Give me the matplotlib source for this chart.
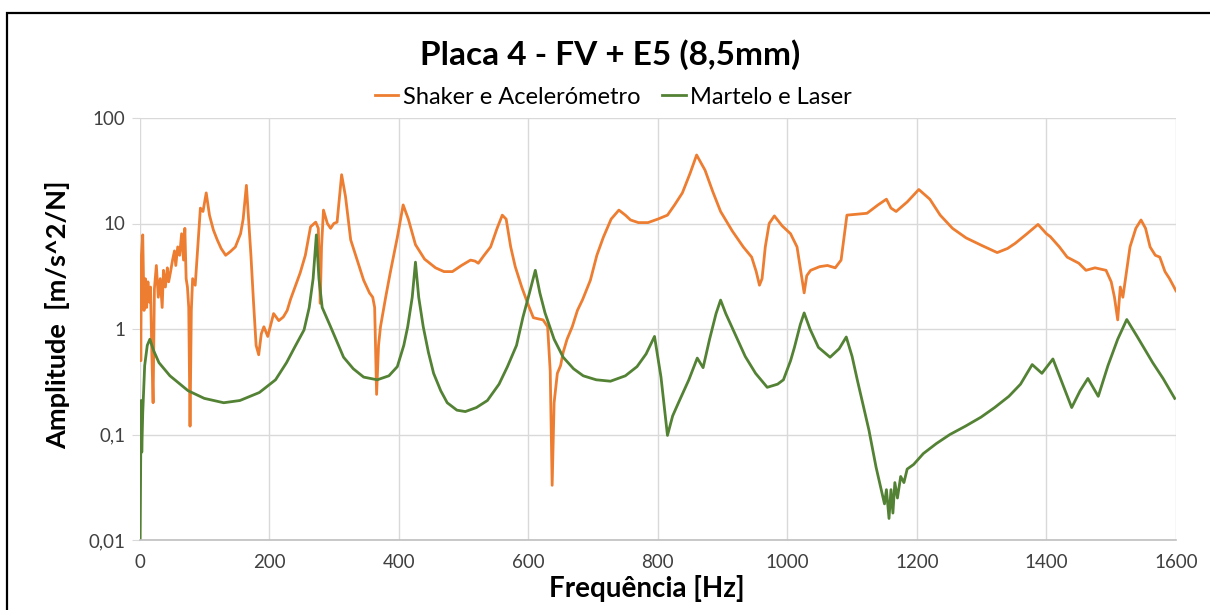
import matplotlib
matplotlib.use("Agg")
import matplotlib.pyplot as plt
from matplotlib.patches import Rectangle

plt.rcParams['font.family'] = ['Lato', 'DejaVu Sans']

# Shaker e Acelerómetro
freq_shaker = [1, 2, 3, 5, 7, 9, 11, 13, 15, 17, 19, 21, 23, 26, 29, 32, 35, 37, 40, 43,
               45, 48, 51, 54, 56, 59, 62, 65, 68, 70, 72, 74, 76, 78, 80, 82, 86, 90, 94, 98,
               103, 108, 114, 120, 126, 133, 140, 148, 156, 160, 165, 168, 172, 176, 180, 184, 188, 192, 198, 207,
               215, 222, 228, 233, 240, 248, 256, 264, 272, 276, 279, 281, 284, 290, 295, 300, 305, 312, 318, 326,
               336, 346, 355, 360, 363, 366, 369, 372, 380, 387, 398, 407, 415, 426, 440, 457, 470, 483, 497, 511,
               518, 523, 532, 542, 552, 560, 566, 573, 580, 590, 600, 608, 615, 623, 630, 634, 637, 640, 645, 650,
               654, 660, 668, 676, 684, 696, 706, 716, 728, 740, 750, 758, 770, 785, 800, 815, 826, 838, 850, 860,
               873, 885, 897, 915, 932, 945, 952, 957, 961, 966, 972, 980, 992, 1005, 1015, 1021, 1026, 1030, 1036, 1050,
               1062, 1074, 1083, 1092, 1105, 1123, 1140, 1153, 1160, 1168, 1185, 1203, 1220, 1236, 1255, 1276, 1300, 1324, 1340, 1352,
               1370, 1387, 1400, 1406, 1420, 1432, 1450, 1461, 1475, 1492, 1500, 1505, 1510, 1514, 1518, 1529, 1538, 1546, 1553, 1560,
               1568, 1575, 1583, 1590, 1594, 1600]
amp_shaker = [3.6, 0.5, 5, 7.8, 1.5, 3, 1.6, 2.8, 1.8, 2.5, 0.6, 0.2, 2.4, 4, 2, 3, 1.6, 3.6, 2.5, 3.8,
              2.8, 3.5, 4.5, 5.5, 4, 6, 5, 8, 4.5, 9, 3, 2.5, 1.6, 0.12, 1.5, 3, 2.6, 6, 14, 13,
              19.5, 12, 8.7, 7, 5.8, 5, 5.4, 6, 8, 11, 23, 12, 5, 1.8, 0.7, 0.57, 0.9, 1.05, 0.85, 1.4,
              1.2, 1.3, 1.5, 1.9, 2.5, 3.4, 5, 9.3, 10.3, 9, 1.75, 6, 13.4, 10, 9, 10, 10.3, 29, 18, 7,
              4.5, 2.9, 2.2, 2.0, 1.6, 0.24, 0.7, 1.05, 2, 3.4, 7.4, 15, 11, 6.3, 4.6, 3.8, 3.5, 3.5, 4, 4.5,
              4.4, 4.2, 5, 6, 9, 12, 11, 6, 3.9, 2.5, 1.7, 1.28, 1.25, 1.22, 1.05, 0.4, 0.033, 0.2, 0.38, 0.45,
              0.6, 0.8, 1.05, 1.5, 1.9, 2.9, 5, 7.4, 11, 13.4, 12, 10.8, 10.2, 10.2, 11, 12, 15, 19.5, 30, 44.6,
              32, 20, 13, 8.5, 6, 4.8, 3.5, 2.6, 3, 6, 10, 11.8, 9.5, 8, 6, 3.5, 2.2, 3.2, 3.6, 3.9,
              4, 3.8, 4.5, 12, 12.2, 12.5, 15, 17, 14, 13, 16, 21, 17, 12, 9, 7.3, 6.2, 5.3, 5.8, 6.5,
              8, 9.8, 8, 7.5, 6, 4.8, 4.2, 3.6, 3.8, 3.6, 2.8, 2.0, 1.22, 2.5, 2, 6, 9, 10.8, 9, 6,
              5, 4.8, 3.5, 3, 2.7, 2.3]

# Martelo e Laser
freq_martelo = [1, 2.5, 3.5, 5, 8, 12, 16, 22, 30, 47, 75, 100, 130, 155, 185, 210, 227, 240, 254, 262,
                268, 273, 277, 282, 295, 315, 330, 346, 367, 385, 398, 408, 414, 421, 426, 431, 438, 446, 454, 465,
                475, 490, 503, 520, 537, 555, 568, 582, 592, 602, 611, 618, 626, 640, 654, 670, 685, 705, 727, 750,
                768, 782, 795, 805, 815, 823, 832, 848, 861, 870, 880, 890, 897, 905, 921, 935, 951, 969, 985, 994,
                1005, 1011, 1020, 1026, 1035, 1048, 1066, 1080, 1091, 1100, 1108, 1118, 1126, 1137, 1145, 1150, 1153, 1157, 1160, 1163,
                1166, 1170, 1175, 1180, 1185, 1195, 1210, 1230, 1251, 1275, 1299, 1320, 1342, 1360, 1378, 1393, 1410, 1425, 1439, 1452,
                1464, 1480, 1495, 1510, 1524, 1540, 1564, 1580, 1598]
amp_martelo = [0.01, 0.21, 0.068, 0.16, 0.45, 0.7, 0.8, 0.62, 0.48, 0.36, 0.26, 0.22, 0.2, 0.21, 0.25, 0.33, 0.48, 0.68, 0.98, 1.6,
               3, 7.8, 3, 1.6, 1.05, 0.54, 0.42, 0.35, 0.33, 0.36, 0.44, 0.7, 1.05, 2, 4.3, 2, 1.05, 0.6, 0.38, 0.26,
               0.2, 0.17, 0.165, 0.18, 0.21, 0.3, 0.44, 0.7, 1.3, 2.2, 3.6, 2.2, 1.42, 0.8, 0.54, 0.42, 0.36, 0.33, 0.32, 0.36,
               0.44, 0.58, 0.85, 0.35, 0.098, 0.15, 0.2, 0.33, 0.53, 0.43, 0.8, 1.4, 1.88, 1.4, 0.85, 0.55, 0.38, 0.28, 0.3, 0.33,
               0.5, 0.67, 1.1, 1.42, 1.0, 0.67, 0.54, 0.65, 0.84, 0.55, 0.33, 0.18, 0.11, 0.049, 0.03, 0.022, 0.03, 0.016, 0.03, 0.018,
               0.035, 0.025, 0.04, 0.035, 0.047, 0.052, 0.066, 0.082, 0.1, 0.12, 0.146, 0.18, 0.23, 0.3, 0.46, 0.38, 0.52, 0.3, 0.18, 0.26,
               0.34, 0.23, 0.45, 0.8, 1.23, 0.85, 0.48, 0.34, 0.22]

x_ticks = [0, 200, 400, 600, 800, 1000, 1200, 1400, 1600]
y_ticks = [0.01, 0.1, 1, 10, 100]
y_tick_labels = ['0,01', '0,1', '1', '10', '100']

fig = plt.figure(figsize=(12.1, 6.1), dpi=100)
ax = fig.add_axes([139.5 / 1210, 1 - 540 / 610, (1176 - 139.5) / 1210, (540 - 118) / 610])

ax.plot(freq_shaker, amp_shaker, color='#ED7D31', lw=2.0, label='Shaker e Acelerómetro')
ax.plot(freq_martelo, amp_martelo, color='#548235', lw=2.0, label='Martelo e Laser')

ax.set_yscale('log')
ax.set_xlim(0, 1600)
ax.set_ylim(0.01, 100)
ax.set_xticks(x_ticks)
ax.set_yticks(y_ticks)
ax.set_yticklabels(y_tick_labels)
ax.minorticks_off()
ax.grid(True, color='#d9d9d9', lw=1)
ax.set_axisbelow(True)
for s in ['top', 'right', 'left']:
    ax.spines[s].set_visible(False)
ax.spines['bottom'].set_color('#bfbfbf')
ax.spines['bottom'].set_linewidth(1.2)
ax.tick_params(axis='y', length=6, color='#d9d9d9', labelsize=13.5, labelcolor='#404040', pad=4)
ax.tick_params(axis='x', length=0, labelsize=13.5, labelcolor='#404040', pad=10)

ax.set_xlabel('Frequência [Hz]', fontsize=20, fontweight='bold')
ax.set_ylabel('Amplitude  [m/s^2/N]', fontsize=19.5, fontweight='bold')
ax.xaxis.set_label_coords(0.489, -0.082)
ax.yaxis.set_label_coords(-0.067, 0.533)

fig.text(0.504, 1 - 55 / 610, 'Placa 4 - FV + E5 (8,5mm)', ha='center', va='center',
         fontsize=24, fontweight='bold')
fig.legend(loc='center', bbox_to_anchor=(0.507, 1 - 97 / 610), ncol=2, frameon=False,
           fontsize=17, handlelength=1.0, handletextpad=0.2, columnspacing=0.9)

# moldura externa
fig.patches.append(Rectangle((7 / 1210, -0.1), 1.2, 1.1 - 13 / 610, transform=fig.transFigure,
                             fill=False, edgecolor='black', lw=1.6))

fig.savefig('out.png', dpi=100)
